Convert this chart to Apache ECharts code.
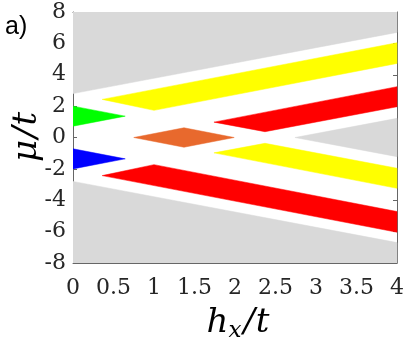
<!DOCTYPE html>
<html>
<head>
<meta charset="utf-8">
<script src="https://cdn.jsdelivr.net/npm/echarts@6/dist/echarts.min.js"></script>
<style>
    html, body {margin:0;padding:0;background:#ffffff;}
    #chart {width:407px;height:344px;}
</style>
</head>
<body>
<div id="chart"></div>
<script>
    // 相图区域, 每个多边形的顶点 [h_x/t, mu/t]
    var grayTop = [[0, 2.8], [4, 6.7], [4, 8], [0, 8]];
    var grayBottom = [[0, -2.8], [4, -6.7], [4, -8], [0, -8]];
    var grayMid = [[2.74, 0], [4, 1.22], [4, -1.22]];
    var yellowUp = [[0.36, 2.43], [1.0, 1.73], [4, 4.72], [4, 6.04]];
    var redUp = [[1.74, 0.98], [2.37, 0.37], [4, 1.96], [4, 3.24]];
    var yellowDown = [[1.74, -0.98], [2.37, -0.37], [4, -1.96], [4, -3.24]];
    var redDown = [[0.36, -2.43], [1.0, -1.73], [4, -4.72], [4, -6.04]];
    var greenTri = [[0, 2.0], [0.645, 1.36], [0, 0.72]];
    var blueTri = [[0, -0.72], [0.645, -1.36], [0, -2.0]];
    var orangeDiamond = [[0.75, 0], [1.37, 0.62], [1.99, 0], [1.37, -0.62]];

    var regions = [
        {pts: grayTop, color: '#d9d9d9'},
        {pts: grayBottom, color: '#d9d9d9'},
        {pts: grayMid, color: '#d9d9d9'},
        {pts: yellowUp, color: '#ffff00'},
        {pts: redUp, color: '#ff0000'},
        {pts: yellowDown, color: '#ffff00'},
        {pts: redDown, color: '#ff0000'},
        {pts: greenTri, color: '#00ff00'},
        {pts: blueTri, color: '#0000ff'},
        {pts: orangeDiamond, color: '#e8692d'}
    ];

    var xTicks = {min: 0, max: 4, interval: 0.5};
    var yTicks = {min: -8, max: 8, interval: 2};

    var serif = 'DejaVu Serif';
    var axisColor = '#666666';
    var textColor = '#262626';

    var chart = echarts.init(document.getElementById('chart'));

    function baseAxis(t, pos, showLabel) {
        return {
            type: 'value',
            position: pos,
            min: t.min, max: t.max, interval: t.interval,
            axisLine: {show: true, onZero: false, lineStyle: {color: axisColor, width: 1}},
            axisTick: {show: true, inside: true, length: 4, lineStyle: {color: axisColor}},
            axisLabel: {
                show: showLabel, margin: 7, showMinLabel: true, showMaxLabel: true,
                color: textColor, fontFamily: serif, fontSize: 22
            },
            splitLine: {show: false}
        };
    }

    var xBottom = baseAxis(xTicks, 'bottom', true);
    xBottom.axisLabel.margin = 14;
    var yLeft = baseAxis(yTicks, 'left', true);

    var it = {fontFamily: serif, fontStyle: 'italic', fontSize: 34, color: textColor};

    var option = {
        animation: false,
        backgroundColor: '#ffffff',
        grid: {left: 73, right: 7, top: 12, bottom: 81},
        xAxis: [xBottom, baseAxis(xTicks, 'top', false)],
        yAxis: [yLeft, baseAxis(yTicks, 'right', false)],
        graphic: [
            {
                type: 'text', left: 5, top: 15,
                style: {text: 'a)', font: '25px "Liberation Sans"', fill: '#000'}
            },
            {
                type: 'text', x: 238, y: 323,
                style: {
                    text: '{i|h}{s|x}{sl|/}{i|t}',
                    align: 'center', verticalAlign: 'middle',
                    rich: {
                        i: it,
                        s: {fontFamily: serif, fontStyle: 'italic', fontSize: 23, color: textColor,
                            verticalAlign: 'bottom', padding: [17, 0, 0, 0]},
                        sl: {fontFamily: serif, fontStyle: 'italic', fontSize: 34, color: textColor, padding: [0, 1, 0, 2]}
                    }
                }
            },
            {
                type: 'text', x: 27, y: 137, rotation: Math.PI / 2,
                style: {
                    text: '{i|μ}{sl|/}{i|t}',
                    align: 'center', verticalAlign: 'middle',
                    rich: {
                        i: it,
                        sl: {fontFamily: serif, fontStyle: 'italic', fontSize: 34, color: textColor, padding: [0, 1, 0, 2]}
                    }
                }
            }
        ],
        series: [{
            type: 'custom',
            coordinateSystem: 'cartesian2d',
            data: regions.map(function (r, i) { return [i]; }),
            renderItem: function (params, api) {
                var r = regions[params.dataIndex];
                var pts = r.pts.map(function (p) { return api.coord(p); });
                return {
                    type: 'polygon',
                    shape: {points: pts},
                    style: {fill: r.color, stroke: r.color, lineWidth: 0.5}
                };
            },
            clip: true,
            z: 1
        }]
    };
    chart.setOption(option);
</script>
</body>
</html>
